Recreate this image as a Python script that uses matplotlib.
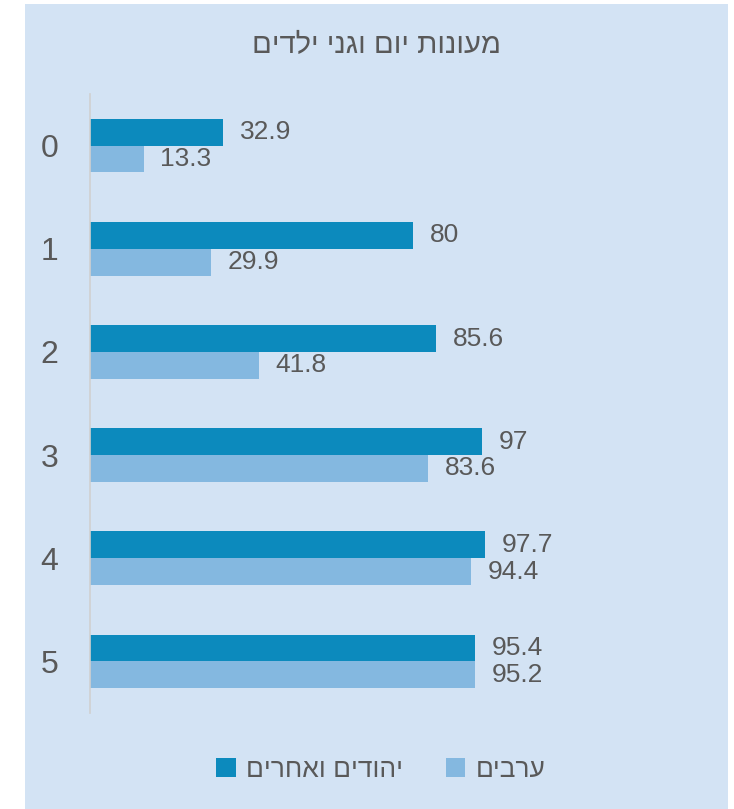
import numpy as np
import matplotlib
matplotlib.use("Agg")
import matplotlib.pyplot as plt
from matplotlib.patches import Rectangle

plt.rcParams['font.family'] = ['Liberation Sans', 'DejaVu Sans']

# data
ages = ['0', '1', '2', '3', '4', '5']
jews_others = [32.9, 80, 85.6, 97, 97.7, 95.4]
arabs = [13.3, 29.9, 41.8, 83.6, 94.4, 95.2]
title = 'מעונות יום וגני ילדים'
label_jews = 'יהודים ואחרים'
label_arabs = 'ערבים'


def heb(s):
    # matplotlib has no bidi support, draw hebrew in visual order
    return s[::-1]


dark = '#0c8abd'
light = '#84b8e0'
panel = '#d3e3f4'
txt = '#595959'

W, H = 734, 809
fig = plt.figure(figsize=(W / 100, H / 100), dpi=100, facecolor='white')

# light blue panel behind the chart
fig.patches.append(Rectangle((25 / W, 0), 703 / W, 805 / H, transform=fig.transFigure,
                             facecolor=panel, edgecolor='none', zorder=-10))

ax = fig.add_axes([90 / W, 96 / H, 550 / W, 619 / H])
ax.patch.set_alpha(0)
ax.set_zorder(1)

y = np.arange(len(ages))
h = 0.26
b1 = ax.barh(y - h / 2, jews_others, height=h, color=dark, label=heb(label_jews))
b2 = ax.barh(y + h / 2, arabs, height=h, color=light, label=heb(label_arabs))

for bars, vals in [(b1, jews_others), (b2, arabs)]:
    for bar, v in zip(bars, vals):
        ax.annotate(f'{v:g}', (v, bar.get_y() + bar.get_height() / 2),
                    xytext=(12, 0), textcoords='offset points',
                    va='center', ha='left', fontsize=19, color=txt)

ax.set_xlim(0, 550 / 4.04)
ax.set_ylim(5.5, -0.5)
ax.set_yticks(y)
ax.set_yticklabels(ages, fontsize=23, color=txt)
ax.tick_params(axis='y', length=0, pad=23)
ax.set_xticks([])
for s in ['top', 'right', 'bottom']:
    ax.spines[s].set_visible(False)
ax.spines['left'].set_color('#d0d0d0')
ax.spines['left'].set_linewidth(1.2)

fig.text(376 / W, 1 - 45 / H, heb(title), ha='center', va='center', fontsize=21, color=txt)

leg = fig.legend(handles=[b1, b2], loc='center', bbox_to_anchor=(381 / W, 1 - 770 / H),
                 ncol=2, frameon=False, fontsize=19, handlelength=0.75, handleheight=0.75,
                 handletextpad=0.4, columnspacing=1.6, labelcolor=txt)

fig.savefig('out.png', dpi=100, facecolor='white')
